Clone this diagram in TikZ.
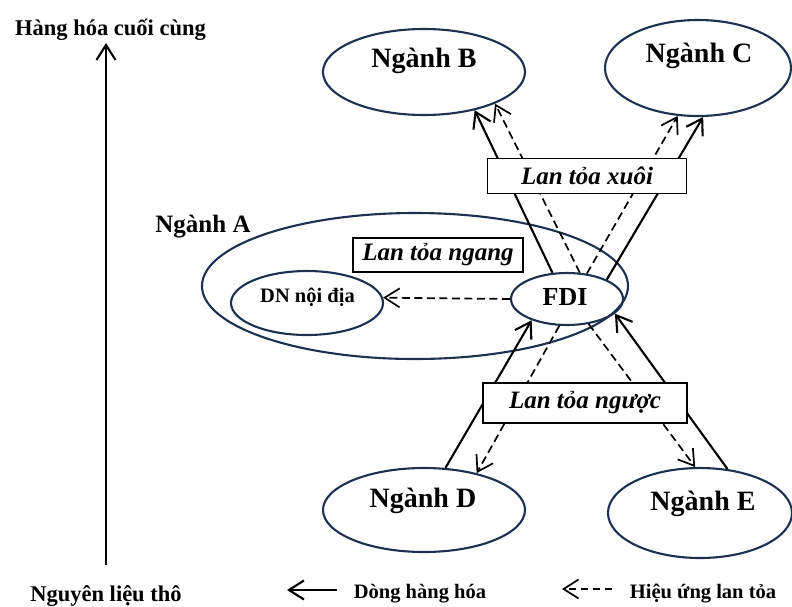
\documentclass[tikz,border=0pt]{standalone}
\usepackage{fontspec}
\setmainfont{Liberation Serif}
\usetikzlibrary{arrows.meta,shapes.geometric}
\definecolor{vien}{RGB}{28,48,80}
\begin{document}
\begin{tikzpicture}[x=1pt,y=-1pt]
% kieu rieng
\tikzset{
  nganh/.style={ellipse, draw=vien, line width=2.1pt, inner sep=0pt},
  ten/.style={anchor=base, inner sep=0pt, font=\bfseries\fontsize{28}{30}\selectfont},
  chu/.style={anchor=base, inner sep=0pt, font=\bfseries\fontsize{20.5}{22}\selectfont},
  hop/.style={draw, line width=1.7pt, fill=white, inner sep=0pt, font=\bfseries\itshape\fontsize{25}{27}\selectfont},
  hang/.style={line width=2.1pt, -{Straight Barb[length=15pt,width=19pt]}},
  lantoa/.style={line width=1.7pt, dash pattern=on 8pt off 4.5pt, -{Straight Barb[length=15pt,width=19pt]}}
}
\useasboundingbox (0,0) rectangle (792,606);

\node[nganh, minimum width=426pt, minimum height=146pt] (A) at (415,286) {};
\node[nganh, minimum width=152pt, minimum height=64pt] (DN) at (307,303) {};
\node[nganh, minimum width=112pt, minimum height=52pt] (F) at (567,299) {};
\node[nganh, minimum width=202pt, minimum height=86pt] (B) at (424,72) {};
\node[nganh, minimum width=186pt, minimum height=96pt] (C) at (698,68) {};
\node[nganh, minimum width=202pt, minimum height=84pt] (D) at (424,510) {};
\node[nganh, minimum width=184pt, minimum height=90pt] (E) at (700,513) {};

\node[ten] (tB) at (424,67.5) {Ngành B};
\node[ten] (tC) at (699,62.5) {Ngành C};
\node[ten] (tD) at (423,507) {Ngành D};
\node[ten] (tE) at (703,510) {Ngành E};
\node[ten, font=\bfseries\fontsize{25}{27}\selectfont] (tA) at (203,232) {Ngành A};
\node[ten, font=\bfseries\fontsize{26}{28}\selectfont] (tF) at (565,305) {FDI};
\node[chu] (tDN) at (307.5,302) {DN nội địa};

% dong hang hoa
\draw[hang] (F.119) -- (B.-37);
\draw[hang] (F.26) -- (C.-84);
\draw[hang] (D.63) -- (F.211);
\draw[hang] (E.58) -- (F.-17);

% hieu ung lan toa
\draw[lantoa] (F.64) -- (B.-24);
\draw[lantoa] (F.52) -- (C.247);
\draw[lantoa] (F.-106) -- (D.35);
\draw[lantoa] (F.-49) -- (E.96);
\draw[lantoa] (F.west) -- (DN.4);

\node[hop, minimum width=170pt, minimum height=34pt] (ngang) at (438,255) {Lan tỏa ngang};
\node[hop, minimum width=199pt, minimum height=35pt] (xuoi) at (587,176) {Lan tỏa xuôi};
\node[hop, minimum width=204pt, minimum height=40pt] (nguoc) at (585,403) {Lan tỏa ngược};

% truc doc
\coordinate (tho) at (106,565);
\coordinate (cuoi) at (106,43);
\draw[hang] (tho) -- (cuoi);
\node[chu, font=\bfseries\fontsize{22.5}{24}\selectfont] (top) at (110.5,35) {Hàng hóa cuối cùng};
\node[chu, font=\bfseries\fontsize{22.5}{24}\selectfont] (bot) at (106,601.5) {Nguyên liệu thô};

% chu giai
\coordinate (g1) at (337,590);
\coordinate (g2) at (287,590);
\draw[hang] (g1) -- (g2);
\node[chu] (lg1) at (420,598) {Dòng hàng hóa};
\coordinate (g3) at (612,589);
\coordinate (g4) at (562,589);
\draw[lantoa, dash pattern=on 7pt off 5pt] (g3) -- (g4);
\node[chu] (lg2) at (703,598) {Hiệu ứng lan tỏa};
\end{tikzpicture}
\end{document}
